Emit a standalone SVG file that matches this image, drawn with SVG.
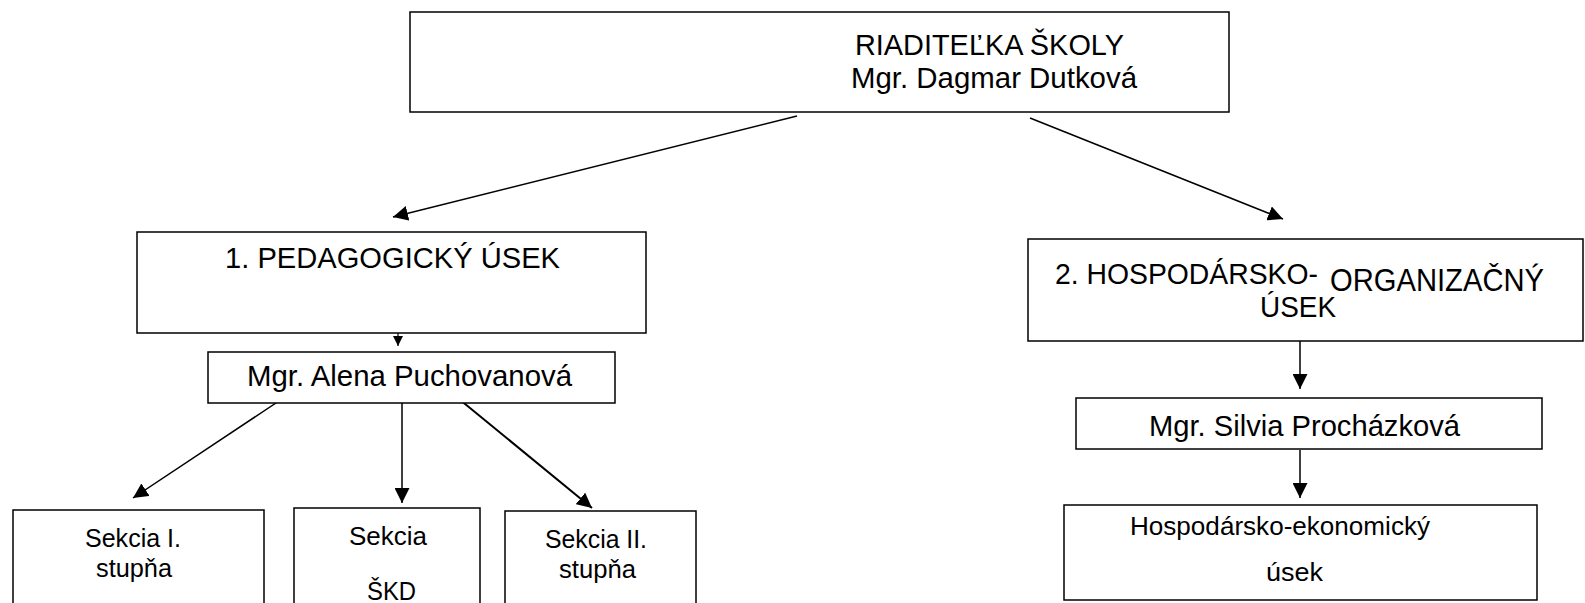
<svg xmlns="http://www.w3.org/2000/svg" width="1585" height="603" viewBox="0 0 1585 603">
<defs>
<marker id="ah" viewBox="0 0 10 10" refX="10" refY="5" markerWidth="10" markerHeight="10" markerUnits="userSpaceOnUse" orient="auto">
<path d="M0,0 L10,5 L0,10 z" fill="#000"/>
</marker>
<marker id="ahL" viewBox="0 0 10 10" refX="10" refY="5" markerWidth="15" markerHeight="15" markerUnits="userSpaceOnUse" orient="auto">
<path d="M0,0 L10,5 L0,10 z" fill="#000"/>
</marker>
</defs>
<style>
.box{fill:#fff;stroke:#000;stroke-width:1.5}
text{font-family:"Liberation Sans",Arial,sans-serif;fill:#000;text-anchor:start}
.t{font-size:29px}
.ts{font-size:25px}
.c{stroke:#000;stroke-width:1.5;fill:none;marker-end:url(#ahL)}
.c2{stroke:#000;stroke-width:2;fill:none;marker-end:url(#ahL)}
.c1{stroke:#000;stroke-width:1.2;fill:none;marker-end:url(#ah)}
</style>
<rect width="1585" height="603" fill="#fff"/>
<g id="connectors">
<line class="c" x1="797" y1="116" x2="393" y2="217"/>
<line class="c" x1="1030" y1="118" x2="1283" y2="219"/>
<line class="c1" x1="398" y1="313" x2="398" y2="346"/>
<line class="c" x1="282" y1="399" x2="133" y2="498"/>
<line class="c" x1="402" y1="403" x2="402" y2="503"/>
<line class="c2" x1="459" y1="399" x2="592" y2="508"/>
<line class="c" x1="1300" y1="338" x2="1300" y2="389"/>
<line class="c" x1="1300" y1="450" x2="1300" y2="498"/>
</g>
<g id="director">
<rect class="box" x="410" y="12" width="819" height="100"/>
<text class="t" x="855" y="55" textLength="269" lengthAdjust="spacingAndGlyphs">RIADITEĽKA ŠKOLY</text>
<text class="t" x="851" y="88" textLength="286" lengthAdjust="spacingAndGlyphs">Mgr. Dagmar Dutková</text>
</g>
<g id="pedagogicky">
<rect class="box" x="137" y="232" width="509" height="101"/>
<text class="t" x="225" y="268" textLength="335" lengthAdjust="spacingAndGlyphs">1. PEDAGOGICKÝ ÚSEK</text>
</g>
<g id="puchovanova">
<rect class="box" x="208" y="352" width="407" height="51"/>
<text class="t" x="247" y="386" textLength="325" lengthAdjust="spacingAndGlyphs">Mgr. Alena Puchovanová</text>
</g>
<g id="sekcia1">
<rect class="box" x="13" y="510" width="251" height="110"/>
<text class="ts" x="85" y="547" textLength="96" lengthAdjust="spacingAndGlyphs">Sekcia I.</text>
<text class="ts" x="96" y="577" textLength="76" lengthAdjust="spacingAndGlyphs">stupňa</text>
</g>
<g id="skd">
<rect class="box" x="294" y="508" width="186" height="110"/>
<text class="ts" x="349" y="545" textLength="78" lengthAdjust="spacingAndGlyphs">Sekcia</text>
<text class="ts" x="367" y="600" textLength="49" lengthAdjust="spacingAndGlyphs">ŠKD</text>
</g>
<g id="sekcia2">
<rect class="box" x="505" y="511" width="191" height="110"/>
<text class="ts" x="545" y="548" textLength="102" lengthAdjust="spacingAndGlyphs">Sekcia II.</text>
<text class="ts" x="559" y="578" textLength="77" lengthAdjust="spacingAndGlyphs">stupňa</text>
</g>
<g id="hospodarsky">
<rect class="box" x="1028" y="239" width="555" height="102"/>
<text class="t" x="1055" y="284" textLength="263" lengthAdjust="spacingAndGlyphs">2. HOSPODÁRSKO-</text>
<text x="1330" y="291" style="font-size:31px" textLength="214" lengthAdjust="spacingAndGlyphs">ORGANIZAČNÝ</text>
<text class="t" x="1260" y="317" textLength="76" lengthAdjust="spacingAndGlyphs">ÚSEK</text>
</g>
<g id="prochazkova">
<rect class="box" x="1076" y="398" width="466" height="51"/>
<text class="t" x="1149" y="436" textLength="311" lengthAdjust="spacingAndGlyphs">Mgr. Silvia Procházková</text>
</g>
<g id="ekonomicky">
<rect class="box" x="1064" y="505" width="473" height="95"/>
<text class="ts" x="1130" y="535" textLength="300" lengthAdjust="spacingAndGlyphs">Hospodársko-ekonomický</text>
<text class="ts" x="1266" y="581" textLength="57" lengthAdjust="spacingAndGlyphs">úsek</text>
</g>
</svg>
